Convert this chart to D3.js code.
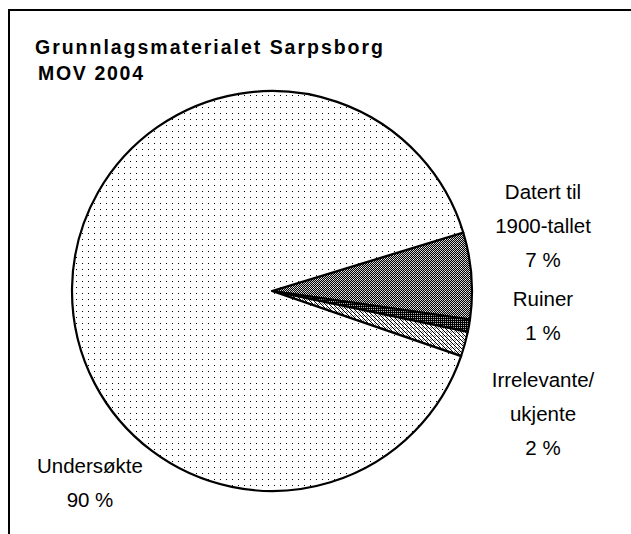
<!DOCTYPE html>
<html>
<head>
<meta charset="utf-8">
<script src="https://cdn.jsdelivr.net/npm/d3@7"></script>
<style>
  html, body { margin: 0; padding: 0; background: #fff; }
  svg { display: block; }
  text { font-family: "Liberation Sans", Arial, sans-serif; fill: #000; }
</style>
</head>
<body>
<script>
const categories = ["Datert til 1900-tallet", "Ruiner", "Irrelevante/ukjente", "Undersøkte"];
const values = [7, 1, 2, 90];
const labelLines = [["Datert til", "1900-tallet", "7 %"], ["Ruiner", "1 %"], ["Irrelevante/", "ukjente", "2 %"], ["Undersøkte", "90 %"]];
const titleLines = ["Grunnlagsmaterialet Sarpsborg", "MOV 2004"];

const W = 631, H = 534;
const svg = d3.select("body").append("svg").attr("width", W).attr("height", H);
const defs = svg.append("defs");

// Patterns
const pDots = defs.append("pattern").attr("id", "pDots").attr("patternUnits", "userSpaceOnUse")
  .attr("width", 6).attr("height", 6);
pDots.append("rect").attr("width", 6).attr("height", 6).attr("fill", "#fff");
pDots.append("rect").attr("x", 2).attr("y", 2).attr("width", 1).attr("height", 1).attr("fill", "#000");

const pGray = defs.append("pattern").attr("id", "pGray").attr("patternUnits", "userSpaceOnUse")
  .attr("width", 4).attr("height", 4);
pGray.append("rect").attr("width", 4).attr("height", 4).attr("fill", "#c8c8c8");
[[0,0],[2,0],[1,1],[3,1],[0,2],[2,2],[1,3],[3,3]].forEach(([x,y]) =>
  pGray.append("rect").attr("x", x).attr("y", y).attr("width", 1).attr("height", 1).attr("fill", "#000"));
pGray.append("rect").attr("x", 1).attr("y", 0).attr("width", 1).attr("height", 1).attr("fill", "#fff");

const pDark = defs.append("pattern").attr("id", "pDark").attr("patternUnits", "userSpaceOnUse")
  .attr("width", 2).attr("height", 2);
pDark.append("rect").attr("width", 2).attr("height", 2).attr("fill", "#000");
pDark.append("rect").attr("x", 1).attr("y", 0).attr("width", 1).attr("height", 1).attr("fill", "#bbb");

const pHatch = defs.append("pattern").attr("id", "pHatch").attr("patternUnits", "userSpaceOnUse")
  .attr("width", 4).attr("height", 4);
pHatch.append("rect").attr("width", 4).attr("height", 4).attr("fill", "#fff");
[[0,0],[1,1],[2,2],[3,3]].forEach(([x,y]) =>
  pHatch.append("rect").attr("x", x).attr("y", y).attr("width", 1).attr("height", 1).attr("fill", "#000"));
[[2,0],[3,1]].forEach(([x,y]) =>
  pHatch.append("rect").attr("x", x).attr("y", y).attr("width", 1).attr("height", 1).attr("fill", "#888"));

const fills = ["url(#pGray)", "url(#pDark)", "url(#pHatch)", "url(#pDots)"];

// Frame
svg.append("rect").attr("x", 9).attr("y", 10).attr("width", W).attr("height", H)
  .attr("fill", "none").attr("stroke", "#000").attr("stroke-width", 2);

// Title
svg.append("text").attr("font-weight", "bold").attr("font-size", 19.5)
  .attr("x", 35).attr("y", 54).attr("textLength", 348).attr("lengthAdjust", "spacing").text(titleLines[0]);
svg.append("text").attr("font-weight", "bold").attr("font-size", 19.5)
  .attr("x", 38).attr("y", 80).attr("textLength", 105).attr("lengthAdjust", "spacing").text(titleLines[1]);

// Pie
const cx = 272, cy = 291, r = 200;
const start = 73 * Math.PI / 180;
const pie = d3.pie().sort(null).value(d => d).startAngle(start).endAngle(start + 2 * Math.PI);
const arc = d3.arc().innerRadius(0).outerRadius(r);
const g = svg.append("g").attr("transform", `translate(${cx},${cy})`);
g.selectAll("path").data(pie(values)).join("path")
  .attr("d", arc)
  .attr("fill", (d, i) => fills[i])
  .attr("stroke", "#000").attr("stroke-width", 2.2).attr("stroke-linejoin", "round");

// Labels
const labelPos = [[543, 199], [543, 306], [543, 387], [90, 473]];
const lineH = 34;
labelLines.forEach((lines, i) => {
  const t = svg.append("text").attr("font-size", 20.5).attr("text-anchor", "middle");
  lines.forEach((s, j) => t.append("tspan").attr("x", labelPos[i][0]).attr("y", labelPos[i][1] + j * lineH).text(s));
});
</script>
</body>
</html>
